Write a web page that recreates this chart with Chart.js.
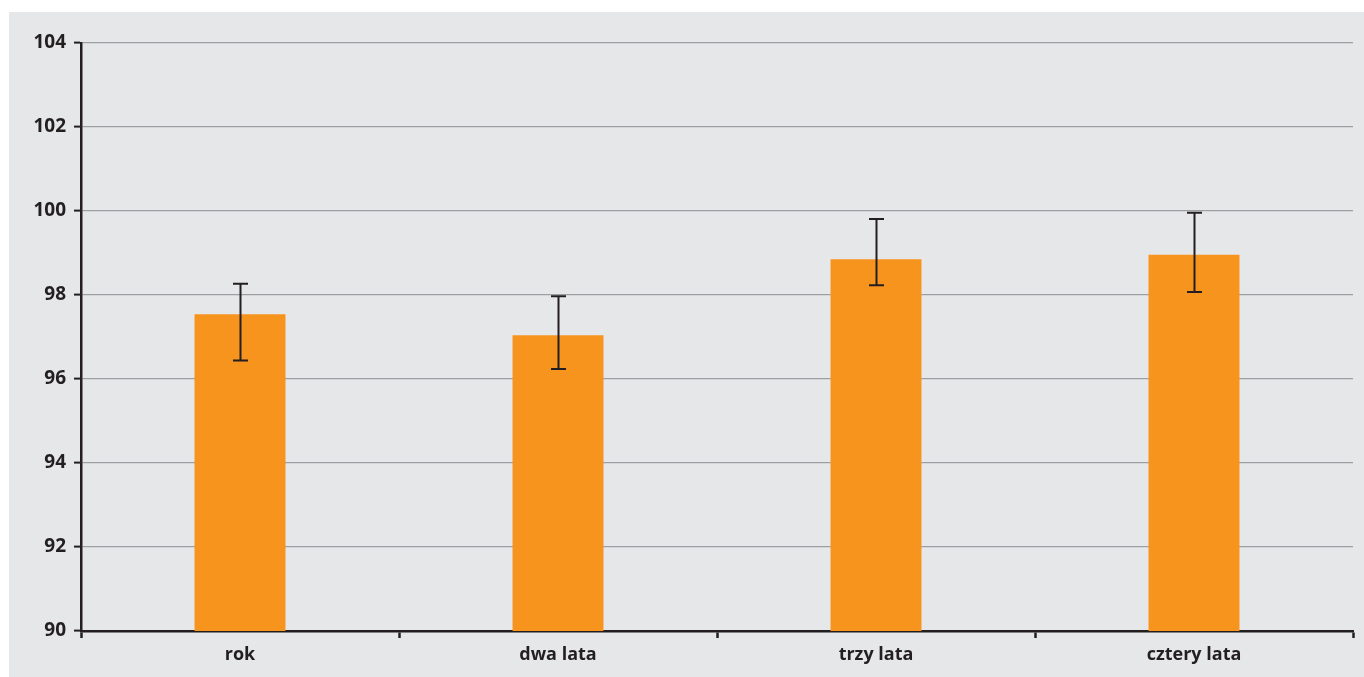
<!DOCTYPE html>
<html>
<head>
<meta charset="utf-8">
<script src="https://cdn.jsdelivr.net/npm/chart.js@4/dist/chart.umd.min.js"></script>
<style>
html,body{margin:0;padding:0;background:#ffffff;width:1364px;height:677px;overflow:hidden;}
#box{position:absolute;left:9px;top:12px;width:1355px;height:665px;background:#e6e7e8;}
</style>
</head>
<body>
<div id="box"><canvas id="c" width="1355" height="665"></canvas></div>
<script>
const categories = ["rok", "dwa lata", "trzy lata", "cztery lata"];
const values = [97.54, 97.04, 98.85, 98.96];
const errLow = [96.44, 96.24, 98.23, 98.07];
const errHigh = [98.27, 97.97, 99.81, 99.96];
const yTicks = [90, 92, 94, 96, 98, 100, 102, 104];

const dark = '#231f20';
const font = {family: '"Open Sans", "Noto Sans", sans-serif', weight: 'bold', size: 19};

const errorBars = {
  id: 'errorBars',
  afterDatasetsDraw(chart) {
    const ctx = chart.ctx;
    const meta = chart.getDatasetMeta(0);
    const y = chart.scales.y;
    ctx.save();
    ctx.strokeStyle = dark;
    ctx.lineWidth = 2;
    meta.data.forEach((bar, i) => {
      const x = Math.round(bar.x) + 0.5;
      const yt = y.getPixelForValue(errHigh[i]);
      const yb = y.getPixelForValue(errLow[i]);
      ctx.beginPath();
      ctx.moveTo(x, yt); ctx.lineTo(x, yb);
      ctx.moveTo(x - 7.5, yt); ctx.lineTo(x + 7.5, yt);
      ctx.moveTo(x - 7.5, yb); ctx.lineTo(x + 7.5, yb);
      ctx.stroke();
    });
    ctx.restore();
  }
};

new Chart(document.getElementById('c'), {
  type: 'bar',
  data: {
    labels: categories,
    datasets: [{
      data: values,
      backgroundColor: '#f7941d',
      borderWidth: 0,
      barPercentage: 0.286,
      categoryPercentage: 1
    }]
  },
  options: {
    responsive: false,
    animation: false,
    layout: {padding: {top: 31, right: 11, left: 0, bottom: 0}},
    plugins: {legend: {display: false}, tooltip: {enabled: false}},
    scales: {
      x: {
        grid: {offset: true, drawOnChartArea: false, drawTicks: true, tickLength: 7, tickColor: dark, tickWidth: 2.5},
        border: {color: dark, width: 2.5},
        ticks: {color: dark, font: {...font, size: 18}, padding: 6, maxRotation: 0},
        afterFit(s) { s.height = 46; }
      },
      y: {
        min: 90, max: 104,
        afterBuildTicks(s) { s.ticks = yTicks.map(v => ({value: v})); },
        grid: {color: '#9d9fa2', lineWidth: 1.2, drawTicks: true, tickLength: 7, tickColor: dark, tickWidth: 2},
        border: {color: dark, width: 2.5},
        ticks: {color: dark, font: font, padding: 8},
        afterFit(s) { s.width = 72; }
      }
    }
  },
  plugins: [errorBars]
});
</script>
</body>
</html>
